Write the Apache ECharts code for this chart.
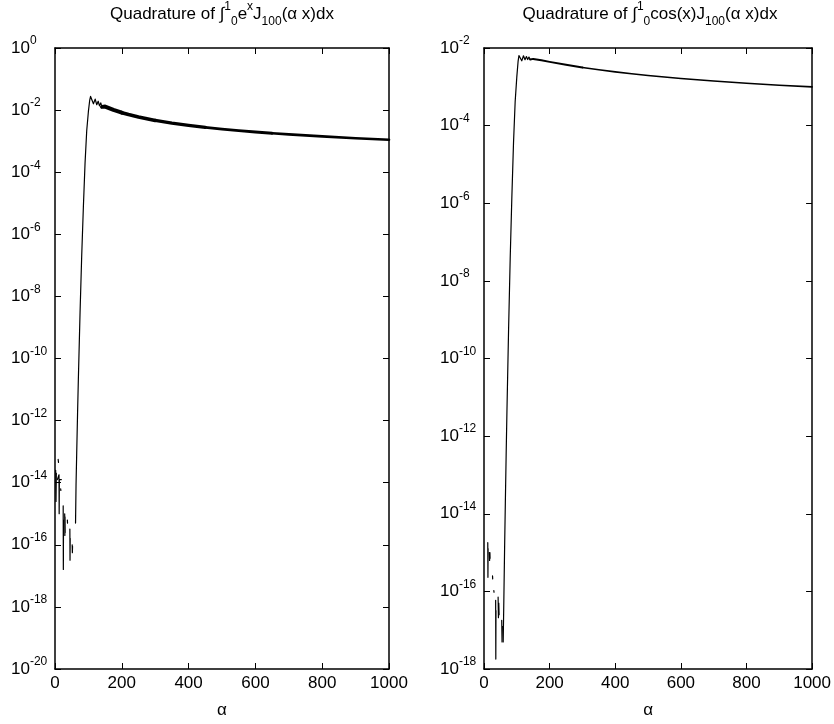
<!DOCTYPE html>
<html><head><meta charset="utf-8">
<script src="https://cdn.jsdelivr.net/npm/echarts@6/dist/echarts.min.js"></script>
<style>html,body{margin:0;padding:0;background:#fff}#c{width:834px;height:724px}</style>
</head><body><div id="c"></div>
<script>
// ---- data (alpha, value) ----
const alphaTicks = [0, 200, 400, 600, 800, 1000];
const leftRange = [1e-20, 1];
const rightRange = [1e-18, 1e-2];
const decadeStep = 2;

const leftCurve = [[61.5,5.0e-16],[63,8.7e-15],[65,9.1e-14],[67.5,1.6e-12],[70,2.3e-11],[75,3.0e-9],[80,2.1e-7],[85,7.8e-6],[90,2.0e-4],[95,2.2e-3],[100,9.06e-3],[104,2.11e-2],[106.5,2.76e-2],[108.6,2.99e-2],[115.1,1.60e-2],[120.3,2.26e-2],[125.0,1.49e-2],[129.3,1.93e-2],[133.2,1.37e-2],[137.0,1.71e-2],[140.6,1.27e-2],[144,1.39e-2],[150,1.30e-2],[175,1.01e-2],[200,8.24e-3],[220,7.16e-3],[250,5.97e-3],[300,4.65e-3],[350,3.80e-3],[400,3.21e-3],[450,2.78e-3],[500,2.44e-3],[550,2.18e-3],[600,1.97e-3],[650,1.80e-3],[700,1.65e-3],[800,1.42e-3],[900,1.24e-3],[1000,1.105e-3]];

const leftNoise = [
  [[2,2.5e-14],[3,2.5e-15],[4,2.0e-14]],
  [[9.5,5.6e-14],[10.5,4.5e-14]],
  [[7,1.26e-14],[12,1.8e-14],[12.5,1.0e-15],[13,1.26e-14],[19,1.26e-14]],
  [[17,6.3e-15],[17.5,5.6e-15]],
  [[24.5,1.8e-15],[25,1.6e-17],[25.5,6.3e-16]],
  [[29,1.0e-15],[29.5,2.0e-16],[30,7.9e-16],[30.5,2.5e-16]],
  [[37,6.3e-16],[37.5,5.0e-16]],
  [[44.5,3.2e-16],[45,3.2e-17],[45.5,1.6e-16]],
  [[51.5,1.0e-16],[52,5.6e-17],[52.5,8.9e-17]]
];

const rightCurve = [[58.5,5.0e-18],[60,3.2e-17],[63,1.7e-15],[65,1.8e-14],[67.5,3.2e-13],[70,4.7e-12],[75,6.0e-10],[80,4.3e-8],[85,1.55e-6],[90,3.7e-5],[95,4.2e-4],[100,1.8e-3],[104,4.61e-3],[106.5,6.38e-3],[108.6,6.91e-3],[115.1,4.67e-3],[120.3,6.31e-3],[125.0,4.99e-3],[129.3,6.03e-3],[133.2,5.05e-3],[137.0,5.83e-3],[140.6,5.03e-3],[144,5.34e-3],[150,5.24e-3],[175,4.81e-3],[200,4.39e-3],[250,3.68e-3],[300,3.15e-3],[350,2.74e-3],[400,2.42e-3],[450,2.17e-3],[500,1.96e-3],[600,1.64e-3],[700,1.41e-3],[800,1.24e-3],[900,1.10e-3],[1000,9.95e-4]];

const rightNoise = [
  [[11.5,1.8e-15],[12,2.3e-16],[12.5,1.26e-15]],
  [[16,1.0e-15],[17,6.3e-16],[18,1.0e-15],[18.5,7.1e-16]],
  [[26,2.5e-16],[26.5,2.1e-16]],
  [[30,1.05e-16],[30.5,9.5e-17]],
  [[35.5,5.9e-17],[36,1.8e-18],[36.5,3.2e-17]],
  [[43,7.1e-17],[44,2.1e-17],[45,5.0e-17],[46,2.5e-17]],
  [[54,1.8e-17],[55,5.0e-18],[56,1.26e-17]]
];

const leftTitle = '{t|Quadrature of ∫}{sp|1}{sb|0}{t|e}{sp|x}{t|J}{sb|100}{t|(α x)dx}';
const rightTitle = '{t|Quadrature of ∫}{sp|1}{sb|0}{t|cos(x)J}{sb|100}{t|(α x)dx}';

// ---- styling / layout ----
const FONT = '"Liberation Sans", Arial, Helvetica, sans-serif';
const titleRich = {
  t: {fontSize: 17, fontFamily: FONT, fontWeight: 'normal', color: '#000', lineHeight: 20, verticalAlign: 'middle'},
  sp: {fontSize: 12, fontFamily: FONT, fontWeight: 'normal', color: '#000', lineHeight: 12, padding: [0,0,14,0], verticalAlign: 'middle'},
  sb: {fontSize: 12, fontFamily: FONT, fontWeight: 'normal', color: '#000', lineHeight: 12, padding: [15,0,0,0], verticalAlign: 'middle'}
};
const labelRich = {
  b: {fontSize: 17, fontFamily: FONT, color: '#000', lineHeight: 17, verticalAlign: 'middle'},
  s: {fontSize: 12, fontFamily: FONT, color: '#000', lineHeight: 12, padding: [0,0,14,0], verticalAlign: 'middle'}
};
const lineC = {color: '#000', width: 1.5};

function xAx(grid, pos, labels) {
  return {
    type: 'value', gridIndex: grid, position: pos,
    min: alphaTicks[0], max: alphaTicks[alphaTicks.length-1], interval: alphaTicks[1]-alphaTicks[0],
    axisLine: {show: true, onZero: false, lineStyle: lineC},
    axisTick: {show: true, inside: true, length: 6, lineStyle: {color: '#000', width: 1}},
    axisLabel: {show: labels, color: '#000', fontSize: 17, fontFamily: FONT, margin: 6,
      formatter: v => String(v)},
    splitLine: {show: false},
    name: labels ? 'α' : '', nameLocation: 'middle', nameGap: 33,
    nameTextStyle: {color: '#000', fontSize: 17, fontFamily: FONT}
  };
}
function yAx(grid, pos, labels, range) {
  return {
    type: 'log', logBase: 10, gridIndex: grid, position: pos,
    min: range[0], max: range[1], interval: decadeStep,
    axisLine: {show: true, onZero: false, lineStyle: lineC},
    axisTick: {show: true, inside: true, length: 6, lineStyle: {color: '#000', width: 1}},
    axisLabel: {show: labels, align: 'left', margin: 44,
      formatter: v => '{b|10}{s|' + Math.round(Math.log10(v)) + '}', rich: labelRich},
    splitLine: {show: false}, minorTick: {show: false}
  };
}
function seg(data, a0, a1) { return data.filter(p => p[0] >= a0 && p[0] <= a1); }
function ln(data, xi, yi, w) {
  return {type: 'line', data: data, xAxisIndex: xi, yAxisIndex: yi, symbol: 'none',
    showSymbol: false, lineStyle: {color: '#000', width: w, cap: 'round', join: 'round'}, itemStyle: {color: '#000'},
    animation: false, silent: true, clip: true, z: 3};
}

const series = [];
series.push(ln(seg(leftCurve, 0, 141), 0, 0, 1.2));
series.push(ln(seg(leftCurve, 140, 200), 0, 0, 4.0));
series.push(ln(seg(leftCurve, 200, 300), 0, 0, 3.6));
series.push(ln(seg(leftCurve, 300, 450), 0, 0, 3.2));
series.push(ln(seg(leftCurve, 450, 650), 0, 0, 2.9));
series.push(ln(seg(leftCurve, 650, 1000), 0, 0, 2.6));
leftNoise.forEach(s => series.push(ln(s, 0, 0, 1.2)));
series.push(ln(seg(rightCurve, 0, 141), 2, 2, 1.2));
series.push(ln(seg(rightCurve, 140, 300), 2, 2, 2.0));
series.push(ln(seg(rightCurve, 300, 1000), 2, 2, 1.6));
rightNoise.forEach(s => series.push(ln(s, 2, 2, 1.2)));

const chart = echarts.init(document.getElementById('c'), null, {renderer: 'canvas'});
chart.setOption({
  backgroundColor: '#fff',
  animation: false,
  title: [
    {text: leftTitle, left: 222, top: 4, textAlign: 'center', padding: 0, textStyle: {fontWeight: 'normal', rich: titleRich}},
    {text: rightTitle, left: 650, top: 4, textAlign: 'center', padding: 0, textStyle: {fontWeight: 'normal', rich: titleRich}}
  ],
  grid: [
    {left: 55, top: 48, width: 334, height: 624, containLabel: false},
    {left: 484, top: 48, width: 333, height: 624, containLabel: false}
  ],
  xAxis: [xAx(0, 'bottom', true), xAx(0, 'top', false), xAx(1, 'bottom', true), xAx(1, 'top', false)],
  yAxis: [yAx(0, 'left', true, leftRange), yAx(0, 'right', false, leftRange),
          yAx(1, 'left', true, rightRange), yAx(1, 'right', false, rightRange)],
  series: series
});
</script>
</body></html>
